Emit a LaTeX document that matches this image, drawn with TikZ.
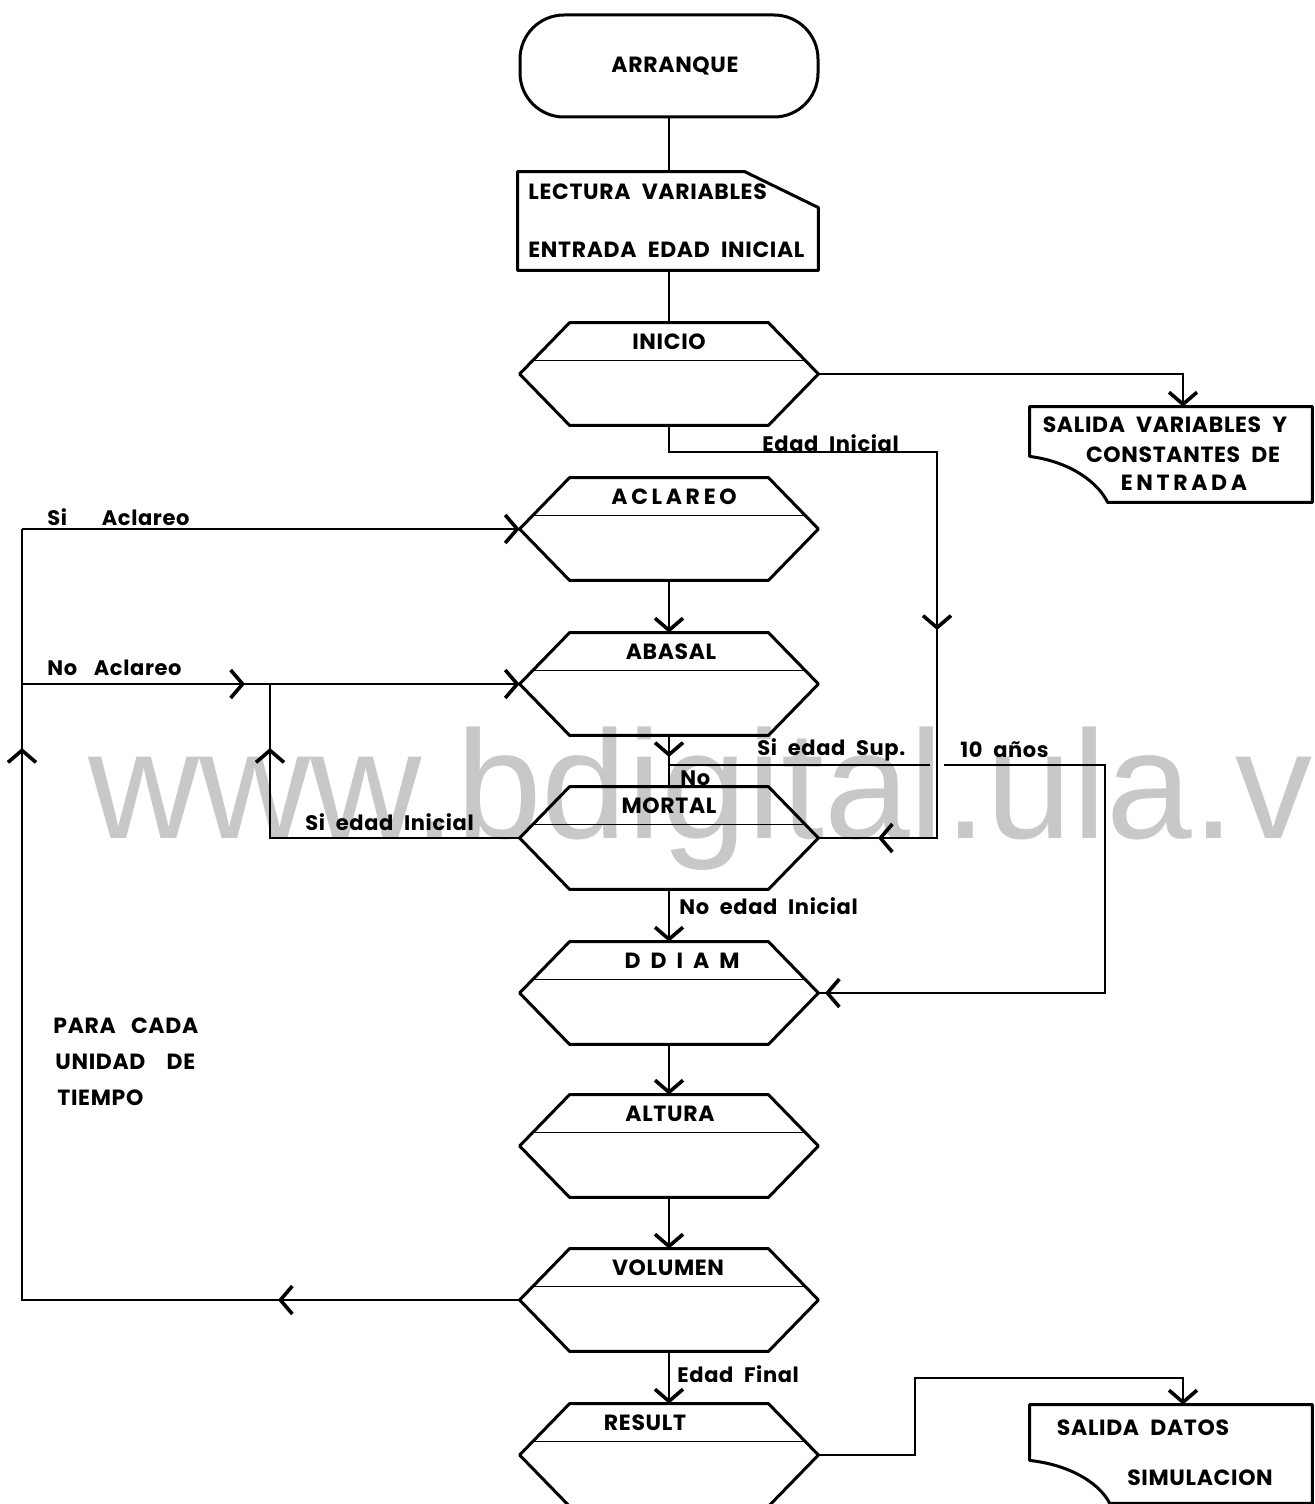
\documentclass[tikz,border=0pt]{standalone}
\usepackage{fontspec}
\setmainfont{Poppins}[WordSpace=2.1, LetterSpace=3]
\newfontfamily\wmfont{Liberation Sans}
\usetikzlibrary{arrows.meta,calc}
\definecolor{wm}{RGB}{200,200,200}
\newcommand\hexnode[4]{%
  \node[box] (#1) at (669,#2) {};
  \draw[shp] (#1.west) -- ($(#1.north west)+(50,0)$) -- ($(#1.north east)+(-50,0)$) -- (#1.east) -- ($(#1.south east)+(-50,0)$) -- ($(#1.south west)+(50,0)$) -- cycle;
  \draw[line width=0.8pt] ($(#1.north west)+(13,38)$) -- ($(#1.north east)+(-13,38)$);
  \node[captxt] (#1-t) at ($(#1.north)+(#4,19)$) {#3};
}
\begin{document}
\begin{tikzpicture}[x=0.5pt,y=-0.5pt,
  shp/.style={line width=1.5pt, line join=round},
  con/.style={line width=1pt},
  >={Straight Barb[length=6pt,width=14pt,line width=1.8pt]},
  box/.style={inner sep=0pt, minimum width=149pt, minimum height=51pt},
  lbl/.style={inner sep=0pt, anchor=west, font=\fontsize{10.5}{12}\selectfont\bfseries},
  captxt/.style={inner sep=0pt, font=\fontsize{11}{13}\selectfont\bfseries},
]
\useasboundingbox (0,0) rectangle (1314,1504);
\clip (0,0) rectangle (1314,1504);

% watermark
\node[anchor=base west, inner sep=0pt, text=wm, font=\wmfont\fontsize{77}{80}\selectfont] (wmark) at (88,838) {www.bdigital.ula.ve};

% start
\node[box, draw, shp, rounded corners=22pt] (arr) at (669,66) {};
\node[captxt] (arr-t) at (675,66) {ARRANQUE};

% input
\node[inner sep=0pt, minimum width=150pt, minimum height=49pt] (lec) at (668,221) {};
\draw[shp] (lec.north west) -- ($(lec.north west)+(227,0)$) -- ($(lec.north east)+(0,36)$) -- (lec.south east) -- (lec.south west) -- cycle;
\node[captxt, anchor=west] (lec-t1) at (528,192) {LECTURA VARIABLES};
\node[captxt, anchor=west] (lec-t2) at (528,250) {ENTRADA EDAD INICIAL};

% hexagons
\hexnode{ini}{374}{INICIO}{0}
\hexnode{acl}{529}{A\,C\,L\,A\,R\,E\,O}{5}
\hexnode{aba}{684}{ABASAL}{2}
\hexnode{mor}{838}{MORTAL}{0}
\hexnode{ddi}{993}{D\hspace{5pt}D\hspace{5pt}I\hspace{5pt}A\hspace{5pt}M}{13}
\hexnode{alt}{1146}{ALTURA}{1}
\hexnode{vol}{1300}{VOLUMEN}{-1}
\hexnode{res}{1455}{RESULT}{-24}

% output documents
\node[inner sep=0pt, minimum width=141pt, minimum height=47.5pt] (sal1) at (1171,454.5) {};
\draw[shp] (sal1.north west) -- (sal1.north east) -- (sal1.south east) -- ($(sal1.south west)+(78,0)$) .. controls ($(sal1.south west)+(70,-17)$) and ($(sal1.south west)+(45,-40)$) .. ($(sal1.south west)+(0,-46)$) -- cycle;
\node[captxt] (sal1-t1) at (1165,425) {SALIDA VARIABLES Y};
\node[captxt] (sal1-t2) at (1183,455) {CONSTANTES DE};
\node[captxt] (sal1-t3) at (1184,483) {E\,N\,T\,R\,A\,D\,A};

\node[inner sep=0pt, minimum width=141pt, minimum height=49pt] (sal2) at (1171,1454) {};
\draw[shp] (sal2.north west) -- (sal2.north east) -- (sal2.south east) -- ($(sal2.south west)+(80,0)$) .. controls ($(sal2.south west)+(72,-17)$) and ($(sal2.south west)+(45,-38)$) .. ($(sal2.south west)+(0,-43)$) -- cycle;
\node[captxt] (sal2-t1) at (1143,1428) {SALIDA DATOS};
\node[captxt] (sal2-t2) at (1200,1478) {SIMULACION};

% main connectors
\draw[con] (arr.south) -- (lec.north -| arr.south);
\draw[con] (lec.south -| ini.north) -- (ini.north);
\coordinate (ir) at (1183,374);
\draw[con,->] (ini.east) -- (ir) -- (ir |- sal1.north);

\coordinate (ei1) at (669,452);
\coordinate (ei2) at (937,452);
\coordinate (ei3) at (937,838);
\coordinate (eia1) at (937,630);
\coordinate (eia2) at (878,838);
\draw[con] (ini.south) -- (ei1) -- (ei2) -- (ei3) -- (mor.east);
\draw[con,->] (ei2) -- (eia1);
\draw[con,->] (ei3) -- (eia2);

\draw[con,->] (acl.south) -- (aba.north);
\coordinate (aba-a) at (669,757);
\draw[con] (aba.south) -- (mor.north);
\draw[con,->] (aba.south) -- (aba-a);

\coordinate (sup0) at (669,765);
\coordinate (sup1) at (930,765);
\coordinate (sup2) at (944,765);
\coordinate (sup3) at (1105,765);
\coordinate (sup4) at (1105,993);
\coordinate (supa) at (825,993);
\draw[con] (sup0) -- (sup1);
\draw[con] (sup2) -- (sup3) -- (sup4) -- (ddi.east);
\draw[con,->] (sup4) -- (supa);

\draw[con,->] (mor.south) -- (ddi.north);
\draw[con,->] (ddi.south) -- (alt.north);
\draw[con,->] (alt.south) -- (vol.north);
\draw[con,->] (vol.south) -- (res.north);

% left loop
\coordinate (lp1) at (22,1300);
\coordinate (lp2) at (22,529);
\coordinate (lpa1) at (278,1300);
\coordinate (lpa2) at (22,748);
\coordinate (na0) at (22,684);
\coordinate (naa) at (245,684);
\coordinate (na1) at (270,684);
\coordinate (si1) at (270,838);
\coordinate (sia) at (270,748);
\draw[con] (vol.west) -- (lp1) -- (lp2);
\draw[con,->] (lp2) -- (acl.west);
\draw[con,->] (vol.west) -- (lpa1);
\draw[con,->] (lp1) -- (lpa2);
\draw[con,->] (na0) -- (aba.west);
\draw[con,->] (na0) -- (naa);
\draw[con] (mor.west) -- (si1) -- (na1);
\draw[con,->] (si1) -- (sia);

% result to output
\coordinate (r1) at (915,1455);
\coordinate (r2) at (915,1378);
\coordinate (r3) at (1183,1378);
\draw[con,->] (res.east) -- (r1) -- (r2) -- (r3) -- (r3 |- sal2.north);

% labels
\node[lbl] (l-ei) at (762,443) {Edad Inicial};
\node[lbl] (l-sia) at (47,517) {Si\hspace{12pt} Aclareo};
\node[lbl] (l-naa) at (47,668) {No\hspace{3pt} Aclareo};
\node[lbl] (l-sup) at (757,750) {Si edad Sup.};
\node[lbl] (l-10) at (960,750) {10 años};
\node[lbl] (l-no) at (680,778) {No};
\node[lbl] (l-sei) at (305,822) {Si edad Inicial};
\node[lbl] (l-nei) at (679,906) {No edad Inicial};
\node[lbl] (l-ef) at (677,1374) {Edad Final};
\node[captxt, anchor=west] (p1) at (53,1026) {PARA\hspace{2pt} CADA};
\node[captxt, anchor=west] (p2) at (55,1062) {UNIDAD\hspace{5pt} DE};
\node[captxt, anchor=west] (p3) at (57,1098) {TIEMPO};
\end{tikzpicture}
\end{document}
